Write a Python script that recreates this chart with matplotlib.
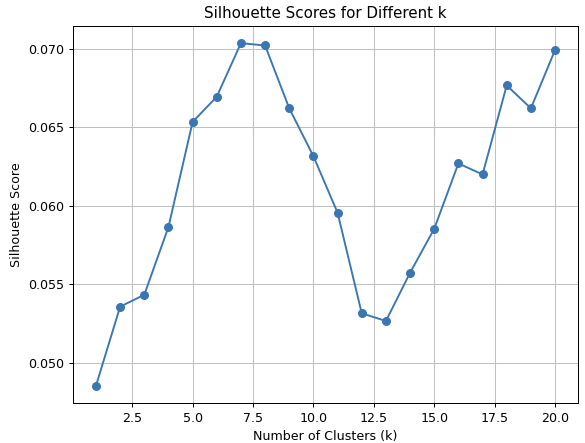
import numpy as np
import matplotlib
matplotlib.use("Agg")
import matplotlib.pyplot as plt

# number of clusters tried and the silhouette score for each
k_values = list(range(1, 21))
scores = [0.04854, 0.05358, 0.05434, 0.05865, 0.06534, 0.06695, 0.07036,
          0.07021, 0.06621, 0.06316, 0.05956, 0.05316, 0.05267, 0.05574,
          0.05854, 0.06270, 0.06200, 0.06767, 0.06621, 0.06992]

# the reference looks like a default figure shrunk a little, so scale things down
s = 0.91
plt.rcParams.update({
    "font.size": 10 * s,
    "axes.titlesize": 12 * s,
    "axes.linewidth": 0.8 * s,
    "grid.linewidth": 0.8 * s,
    "xtick.major.width": 0.8 * s,
    "ytick.major.width": 0.8 * s,
    "xtick.major.size": 3.5 * s,
    "ytick.major.size": 3.5 * s,
})

fig = plt.figure(figsize=(5.85, 4.43), dpi=100)
ax = fig.add_axes([73 / 585, 1 - 403 / 443, (578 - 73) / 585, (403 - 26) / 443])

ax.plot(k_values, scores, marker="o", color="#3a76b2", linewidth=1.5 * s, markersize=6 * s)
ax.set_title("Silhouette Scores for Different k", pad=6 * s)
ax.set_xlabel("Number of Clusters (k)", labelpad=4 * s)
ax.set_ylabel("Silhouette Score", labelpad=4 * s)
ax.grid(True, color="#c0c0c0")

fig.savefig("out.png", dpi=100)
